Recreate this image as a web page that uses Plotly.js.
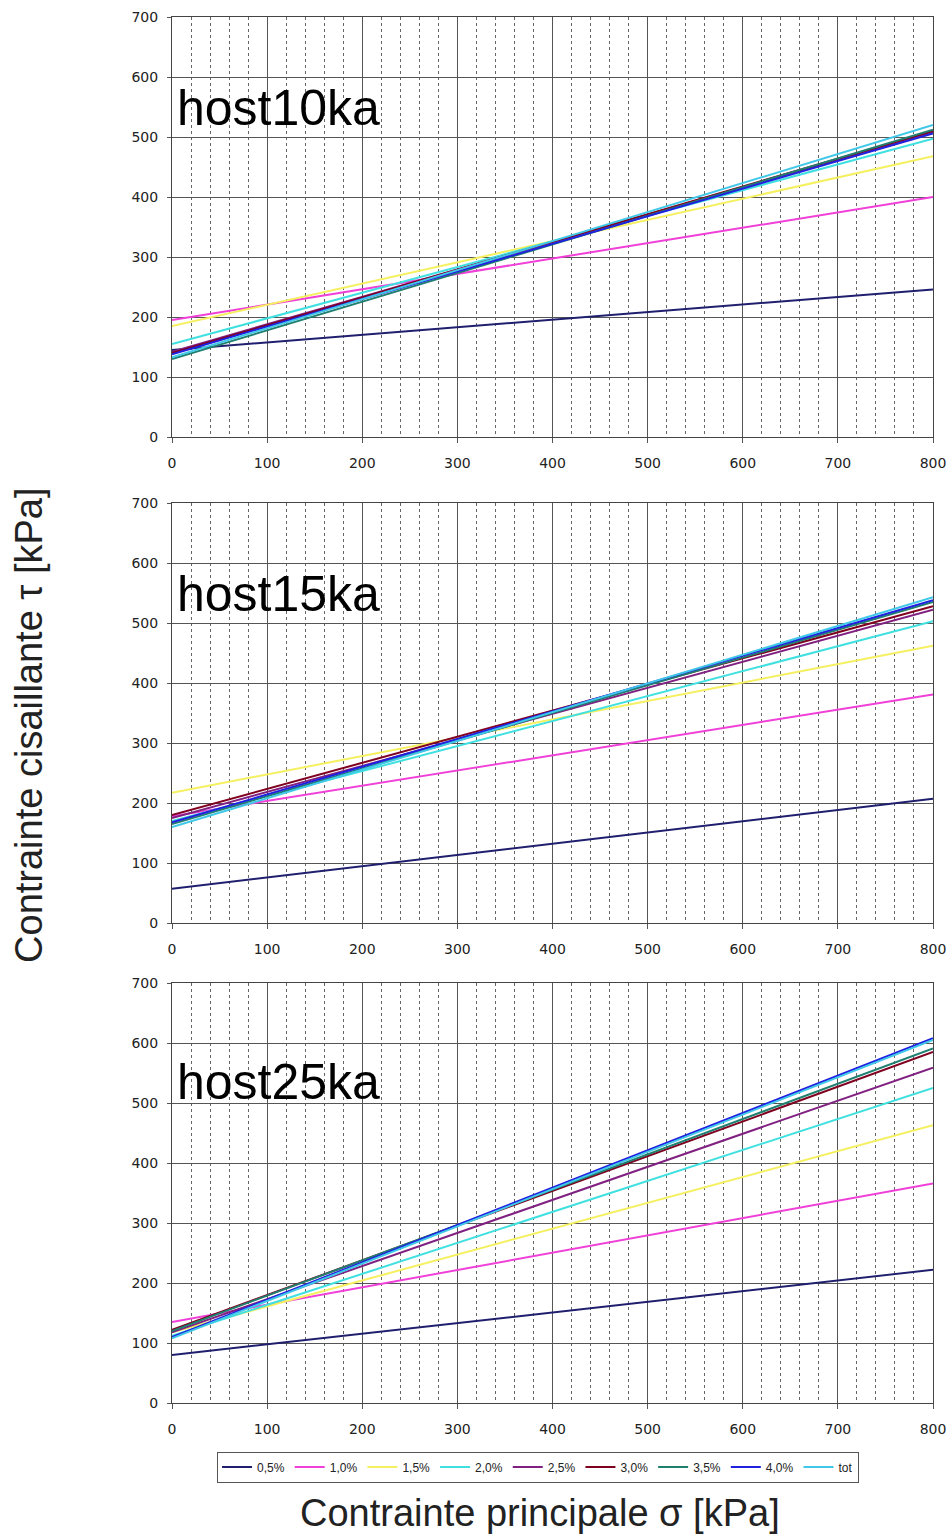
<!DOCTYPE html>
<html>
<head>
<meta charset="utf-8">
<script src="https://cdn.plot.ly/plotly-3.0.1.min.js"></script>
<style>html,body{margin:0;padding:0;background:#fff}#chart{width:952px;height:1538px}</style>
</head>
<body>
<div id="chart"></div>
<script>
// Data
const seriesNames = ['0,5%', '1,0%', '1,5%', '2,0%', '2,5%', '3,0%', '3,5%', '4,0%', 'tot'];
const sigmaPoints = [0, 800];
const panelLabels = ['host10ka', 'host15ka', 'host25ka'];
// tau at sigma = 0 and sigma = 800 for each series
const host10ka_at0   = [145, 195, 185, 155, 142, 140, 130, 138, 133];
const host10ka_at800 = [246, 400, 468, 497, 508, 510, 512, 506, 520];
const host15ka_at0   = [57, 178, 217, 170, 175, 180, 165, 168, 160];
const host15ka_at800 = [207, 381, 462, 503, 522, 528, 535, 538, 543];
const host25ka_at0   = [80, 135, 118, 112, 118, 122, 120, 110, 108];
const host25ka_at800 = [222, 366, 463, 525, 559, 585, 591, 608, 605];
const xTicks = [0, 100, 200, 300, 400, 500, 600, 700, 800];
const yTicks = [0, 100, 200, 300, 400, 500, 600, 700];

const colors = ['#1f1f6e', '#f040d8', '#f5f060', '#40e0e0', '#802080', '#800020', '#208070', '#2020e0', '#40c8e8'];

const panels = [
  {at0: host10ka_at0, at800: host10ka_at800, xa: 'x', ya: 'y'},
  {at0: host15ka_at0, at800: host15ka_at800, xa: 'x2', ya: 'y2'},
  {at0: host25ka_at0, at800: host25ka_at800, xa: 'x3', ya: 'y3'}
];

const traces = [];
panels.forEach((p, pi) => {
  seriesNames.forEach((name, i) => {
    traces.push({
      x: sigmaPoints,
      y: [p.at0[i], p.at800[i]],
      xaxis: p.xa, yaxis: p.ya,
      mode: 'lines',
      name: name,
      legendgroup: name,
      showlegend: pi === 0,
      line: {color: colors[i], width: 2}
    });
  });
});

const H = 1538, T = 17, B = 135;
const ph = H - T - B;
function d(topPx, botPx) {
  return [(1403 - botPx) / ph, (1403 - topPx) / ph];
}

const tickFont = {family: 'DejaVu Sans, Verdana, sans-serif', size: 14, color: '#222'};
function xAxis(anchor) {
  return {
    anchor: anchor, range: [0, 800], tickvals: xTicks, ticks: 'outside', ticklen: 5,
    tickcolor: '#555', showline: true, linecolor: '#444', linewidth: 1, mirror: true,
    showgrid: true, gridcolor: '#555', gridwidth: 1, zeroline: false,
    tickfont: tickFont, ticklabelstandoff: 8,
    minor: {dtick: 20, showgrid: true, gridcolor: '#666', griddash: 'dot', gridwidth: 1},
    fixedrange: true
  };
}
function yAxis(anchor, domain) {
  return {
    anchor: anchor, domain: domain, range: [0, 700], tickvals: yTicks, ticks: 'outside', ticklen: 4,
    tickcolor: '#555', showline: true, linecolor: '#444', linewidth: 1, mirror: true,
    showgrid: true, gridcolor: '#555', gridwidth: 1, zeroline: false,
    tickfont: tickFont, ticklabelstandoff: 6,
    fixedrange: true
  };
}

const labelFont = {family: 'Liberation Sans, Arial, sans-serif', size: 50, color: '#000'};
const titleFont = {family: 'Liberation Sans, Arial, sans-serif', size: 38, color: '#222'};

const layout = {
  width: 952, height: 1538,
  margin: {l: 172, r: 19, t: T, b: B},
  paper_bgcolor: '#fff', plot_bgcolor: '#fff',
  showlegend: true,
  legend: {
    orientation: 'h', x: 0.481, xanchor: 'center', y: -0.035, yanchor: 'top',
    bordercolor: '#555', borderwidth: 1,
    font: {family: 'Liberation Sans, Arial, sans-serif', size: 12, color: '#222'},
    itemwidth: 30, tracegroupgap: 0
  },
  xaxis: xAxis('y'),
  yaxis: yAxis('x', d(17, 437)),
  xaxis2: xAxis('y2'),
  yaxis2: yAxis('x2', d(503, 923)),
  xaxis3: xAxis('y3'),
  yaxis3: yAxis('x3', d(983, 1403)),
  annotations: [
    {text: panelLabels[0], xref: 'x', yref: 'y', x: 3, y: 548, xanchor: 'left', yanchor: 'middle', showarrow: false, font: labelFont},
    {text: panelLabels[1], xref: 'x2', yref: 'y2', x: 3, y: 548, xanchor: 'left', yanchor: 'middle', showarrow: false, font: labelFont},
    {text: panelLabels[2], xref: 'x3', yref: 'y3', x: 3, y: 535, xanchor: 'left', yanchor: 'middle', showarrow: false, font: labelFont},
    {text: 'Contrainte cisaillante τ [kPa]', xref: 'paper', yref: 'paper', x: -0.187, y: 0.489, textangle: -90,
     xanchor: 'center', yanchor: 'middle', showarrow: false, font: titleFont},
    {text: 'Contrainte principale σ [kPa]', xref: 'paper', yref: 'paper', x: 0.4836, y: -0.0794,
     xanchor: 'center', yanchor: 'middle', showarrow: false, font: titleFont}
  ]
};

Plotly.newPlot('chart', traces, layout, {staticPlot: true, displayModeBar: false});
</script>
</body>
</html>
